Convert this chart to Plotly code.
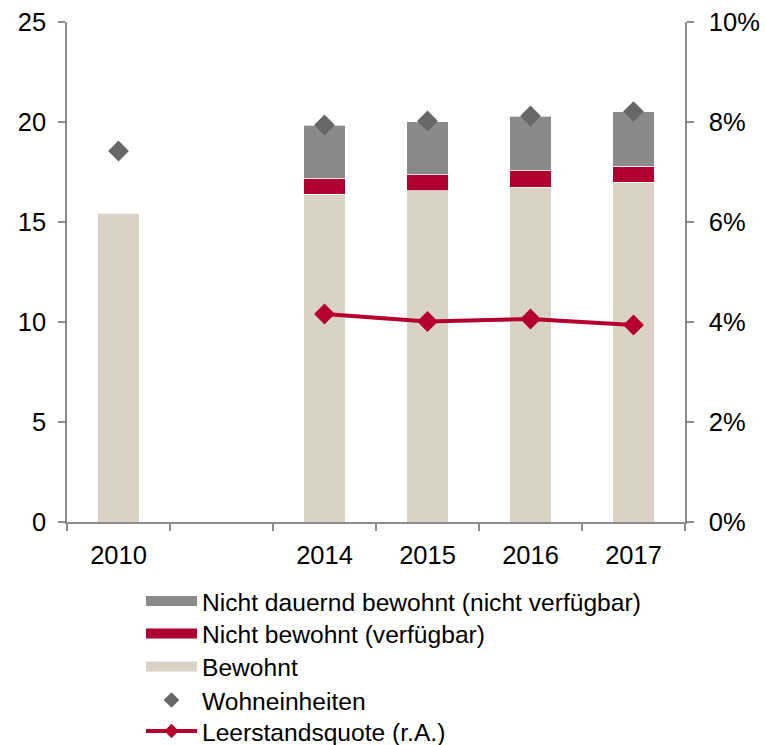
import plotly.graph_objects as go

categories = ["2010", " ", "2014", "2015", "2016", "2017"]
bewohnt = [15.45, None, 16.4, 16.57, 16.75, 17.0]
nicht_bewohnt = [None, None, 0.8, 0.8, 0.82, 0.8]
nicht_dauernd = [None, None, 2.65, 2.65, 2.71, 2.72]
wohneinheiten = [18.55, None, 19.85, 20.05, 20.3, 20.52]
leerstandsquote = [None, None, 0.0416, 0.0401, 0.0406, 0.0394]

C_GRAY = "#8A8A8A"
C_RED = "#B00030"
C_BEIGE = "#D9D3C6"
C_DIAM = "#676767"
C_LINE = "#B5002F"
AXIS = "#8C8C8C"

W, H = 765, 745
# plot area in pixels (left, right, top, bottom)
PL, PR, PT, PB = 67, 685, 22, 522

fig = go.Figure()
bar_line = dict(color="rgba(255,255,255,0.7)", width=1)
fig.add_bar(x=categories, y=bewohnt, marker=dict(color=C_BEIGE, line=bar_line), width=0.4,
            showlegend=False, name="Bewohnt")
fig.add_bar(x=categories, y=nicht_bewohnt, marker=dict(color=C_RED, line=bar_line), width=0.4,
            showlegend=False, name="Nicht bewohnt (verfügbar)")
fig.add_bar(x=categories, y=nicht_dauernd, marker=dict(color=C_GRAY, line=bar_line), width=0.4,
            showlegend=False, name="Nicht dauernd bewohnt (nicht verfügbar)")
fig.add_scatter(x=categories, y=wohneinheiten, mode="markers",
                marker=dict(symbol="diamond", size=16, color=C_DIAM),
                showlegend=False, name="Wohneinheiten")
fig.add_scatter(x=categories, y=leerstandsquote, mode="lines+markers", yaxis="y2",
                line=dict(color=C_LINE, width=4),
                marker=dict(symbol="diamond", size=16, color=C_LINE),
                showlegend=False, name="Leerstandsquote (r.A.)")

# legend entries, each in its own legend box so rows can be spaced like the reference
legend_rows = [
    ("Nicht dauernd bewohnt (nicht verfügbar)", "bar", C_GRAY, 601),
    ("Nicht bewohnt (verfügbar)", "bar", C_RED, 633.5),
    ("Bewohnt", "bar", C_BEIGE, 666.5),
    ("Wohneinheiten", "marker", C_DIAM, 700),
    ("Leerstandsquote (r.A.)", "line", C_LINE, 731),
]
layout_legends = {}
for i, (name, kind, col, ypx) in enumerate(legend_rows):
    lid = "legend" if i == 0 else f"legend{i + 1}"
    if kind == "bar":
        fig.add_scatter(x=[None], y=[None], mode="lines", line=dict(color=col, width=13),
                        name=name, legend=lid)
    elif kind == "marker":
        fig.add_scatter(x=[None], y=[None], mode="markers", name=name, legend=lid,
                        marker=dict(symbol="diamond", size=12, color=col))
    else:
        fig.add_scatter(x=[None], y=[None], mode="lines+markers", name=name, legend=lid,
                        line=dict(color=col, width=4),
                        marker=dict(symbol="diamond", size=11, color=col))
    layout_legends[lid] = dict(
        x=141 / W, y=1 - ypx / H, xanchor="left", yanchor="middle", orientation="v",
        itemwidth=51, font=dict(size=24.6), bgcolor="rgba(0,0,0,0)", borderwidth=0,
    )

fig.update_layout(
    width=W, height=H,
    margin=dict(l=0, r=0, t=0, b=0, autoexpand=False),
    barmode="stack",
    plot_bgcolor="white", paper_bgcolor="white",
    font=dict(family="Liberation Sans, Arial, sans-serif", size=25, color="#000000"),
    xaxis=dict(type="category", categoryorder="array", categoryarray=categories,
               domain=[PL / W, PR / W],
               range=[-0.5, 5.5], tickson="boundaries", ticks="outside", ticklen=7,
               tickcolor=AXIS, tickwidth=1.5, showline=True, linecolor=AXIS, linewidth=1.5,
               showgrid=False, zeroline=False, tickfont=dict(size=25.5), automargin=False,
               ticklabelstandoff=10),
    yaxis=dict(range=[0, 25], dtick=5, domain=[1 - PB / H, 1 - PT / H],
               ticks="outside", ticklen=7, tickcolor=AXIS, tickwidth=1.5,
               showline=True, linecolor=AXIS, linewidth=1.5, showgrid=False, zeroline=False,
               tickfont=dict(size=25.5), automargin=False, ticklabelstandoff=7),
    yaxis2=dict(range=[0, 0.10], dtick=0.02, tickformat=".0%", overlaying="y", side="right",
                ticks="outside", ticklen=7, tickcolor=AXIS, tickwidth=1.5, showline=True,
                linecolor=AXIS, linewidth=1.5, showgrid=False, zeroline=False,
                tickfont=dict(size=25.5), automargin=False, ticklabelstandoff=10),
    **layout_legends,
)

fig.write_html("out.html", config={"displayModeBar": False},
               post_script="document.body.style.margin='0';")
